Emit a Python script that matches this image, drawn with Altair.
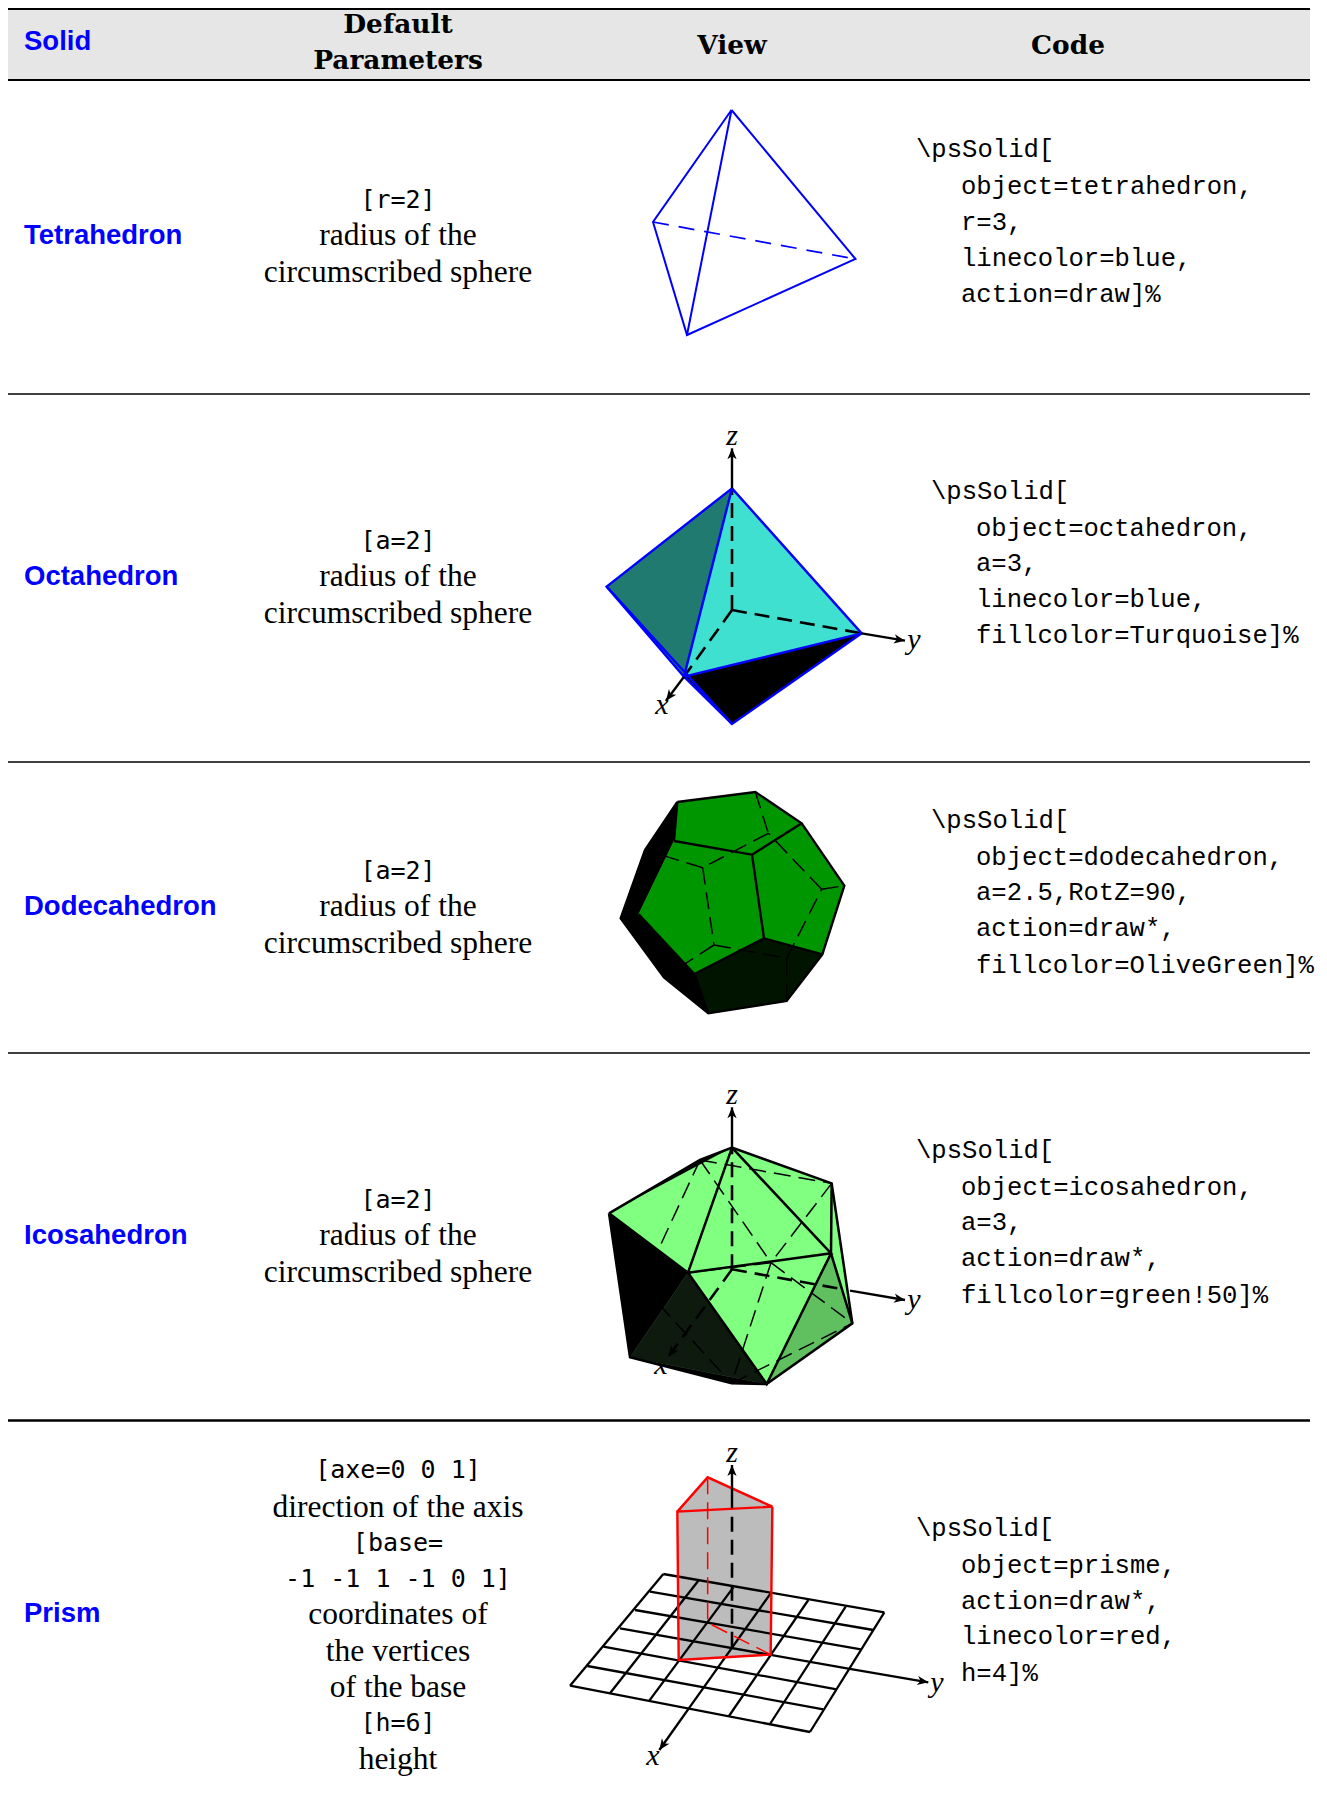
import math
import altair as alt
import pandas

W, H = 1311, 1787
XD = alt.Scale(domain=[8, 8 + W], nice=False, zero=False)
YD = alt.Scale(domain=[8 + H, 8], nice=False, zero=False)

# ---------- table structure ----------
rule_ys = [9, 80, 394, 762, 1053, 1420.5]
rule_ws = [2, 2, 1.7, 1.7, 1.7, 2.5]

# ---------- text ----------
sans_text = [("Solid", 24, 42), ("Tetrahedron", 24, 236), ("Octahedron", 24, 577),
             ("Dodecahedron", 24, 907), ("Icosahedron", 24, 1236), ("Prism", 24, 1614)]
head_text = [("Default", 398, 25), ("Parameters", 398, 61), ("View", 732, 46), ("Code", 1068, 46)]
body_text = [("radius of the", 398, 236), ("circumscribed sphere", 398, 273),
             ("radius of the", 398, 577), ("circumscribed sphere", 398, 614),
             ("radius of the", 398, 907), ("circumscribed sphere", 398, 944),
             ("radius of the", 398, 1236), ("circumscribed sphere", 398, 1273),
             ("direction of the axis", 398, 1508), ("coordinates of", 398, 1615),
             ("the vertices", 398, 1652), ("of the base", 398, 1688), ("height", 398, 1760)]
param_text = [("[r=2]", 398, 200), ("[a=2]", 398, 541), ("[a=2]", 398, 871), ("[a=2]", 398, 1200),
              ("[axe=0 0 1]", 398, 1470), ("[base=", 398, 1543), ("-1 -1 1 -1 0 1]", 398, 1579),
              ("[h=6]", 398, 1723)]
code_text = [("\\psSolid[", 916, 149), ("object=tetrahedron,", 961, 186), ("r=3,", 961, 222),
             ("linecolor=blue,", 961, 258), ("action=draw]%", 961, 294),
             ("\\psSolid[", 931, 491), ("object=octahedron,", 976, 528), ("a=3,", 976, 563),
             ("linecolor=blue,", 976, 599), ("fillcolor=Turquoise]%", 976, 635),
             ("\\psSolid[", 931, 820), ("object=dodecahedron,", 976, 857), ("a=2.5,RotZ=90,", 976, 892),
             ("action=draw*,", 976, 928), ("fillcolor=OliveGreen]%", 976, 965),
             ("\\psSolid[", 916, 1150), ("object=icosahedron,", 961, 1187), ("a=3,", 961, 1222),
             ("action=draw*,", 961, 1258), ("fillcolor=green!50]%", 961, 1295),
             ("\\psSolid[", 916, 1528), ("object=prisme,", 961, 1565), ("action=draw*,", 961, 1601),
             ("linecolor=red,", 961, 1636), ("h=4]%", 961, 1673)]
math_under = [("x", 661, 1365)]
math_text = [("z", 732, 436), ("y", 914, 640), ("x", 662, 705),
             ("z", 732, 1095), ("y", 914, 1300),
             ("z", 732, 1453), ("y", 937, 1683), ("x", 653, 1756)]

# ---------- geometry, in page pixels ----------
def P(ox, oy, *pts):
    return [(ox + a / 3, oy + b / 3) for a, b in pts]

# tetrahedron
t_top, t_left, t_right, t_bot = (731.5, 110), (653, 222), (855.5, 259), (687, 335)

# octahedron
O8 = (580, 420)
o_top, o_left, o_right, o_bot, o_front, o_orig = P(*O8, (456, 205), (80, 500), (845, 640), (456, 912), (312, 770), (456, 570))
o_zt, o_yt, o_xt = P(*O8, (456, 85), (975, 662), (258, 842))

# dodecahedron
O12 = (600, 770)
dA, dB, dC, dD, dE, dF, dG, dH, dI, dJ = P(*O12, (232, 96), (466, 66), (605, 160), (733, 347), (667, 553), (560, 693), (325, 730), (192, 622), (62, 445), (135, 240))
dK, dL, dM, dN, dO = P(*O12, (222, 213), (456, 254), (492, 505), (283, 612), (116, 433))
dP1, dP2, dP3, dP4, dP5 = P(*O12, (505, 190), (308, 293), (342, 525), (560, 565), (665, 358))

# icosahedron
O20 = (590, 1080)
iT, iTL, iL, iC, iR1, iR2, iR3, iB, iBL, iBm = P(*O20, (426, 203), (330, 240), (57, 400), (294, 578), (725, 310), (723, 520), (787, 730), (530, 912), (120, 832), (425, 910))
iV, iH = P(*O20, (155, 617), (543, 548))
iO, iZt, iYs, iYe, iYt, iXt = P(*O20, (426, 568), (426, 82), (780, 632), (760, 628), (945, 660), (235, 830))

# prism
OP = (560, 1430)
p1, p2, p3, p4, p5, p6 = P(*OP, (352, 245), (443, 142), (637, 230), (356, 690), (443, 578), (632, 674))
pO, pZd, pZs, pZt, pXs, pXt, pYs, pYt = P(*OP, (516, 650), (516, 245), (516, 235), (516, 105), (386, 836), (298, 960), (865, 716), (1105, 757))
grid_y = [((310, 432), (973, 547)), ((270, 485), (940, 600)), ((225, 540), (903, 658)), ((180, 595), (865, 716)),
          ((130, 650), (830, 778)), ((82, 708), (790, 838)), ((30, 767), (750, 906))]
grid_x = [((310, 432), (30, 767)), ((415, 452), (150, 790)), ((520, 472), (268, 812)), ((632, 490), (386, 836)),
          ((745, 510), (507, 858)), ((857, 530), (630, 882)), ((973, 547), (750, 906))]

# ---------- painted faces, back to front ----------
faces = [
    ("#217a70", [o_top, o_left, o_front]),
    ("#40e0d0", [o_top, o_front, o_right]),
    ("#000000", [o_front, o_right, o_bot]),

    ("#000000", [dA, dJ, dI, dH, dG, dN, dO, dK]),
    ("#001400", [dM, dE, dF, dG, dN]),
    ("#009600", [dA, dB, dC, dL, dK]),
    ("#009600", [dK, dL, dM, dN, dO]),
    ("#009600", [dL, dC, dD, dE, dM]),

    ("#80ff80", [iT, iR1, iR3, iR2]),
    ("#000000", [iL, iTL, iT]),
    ("#80ff80", [iL, iT, iC]),
    ("#80ff80", [iT, iC, iR2]),
    ("#80ff80", [iC, iR2, iB]),
    ("#60c060", [iR2, iR3, iB]),
    ("#000000", [iL, iC, iBL]),
    ("#000000", [iBL, iBm, iB]),
    ("#0f1a0f", [iC, iB, iBL]),

    ("#bcbcbc", [p1, p2, p3, p6, p4]),
]

# ---------- stroked lines: colour, width, dash, polylines ----------
strokes = [
    ("#000000", 2.3, None, [P(*OP, *seg) for seg in grid_y + grid_x]),
    ("#0000ff", 1.7, [16, 10], [[t_left, t_right]]),
    ("#0000ff", 2, None, [[t_top, t_left, t_bot, t_right, t_top], [t_top, t_bot]]),

    ("#000000", 2.6, [15, 8], [[o_orig, o_top], [o_orig, o_right], [o_orig, o_front]]),
    ("#0000ff", 2.4, None, [[o_top, o_left, o_bot, o_right, o_top], [o_top, o_front, o_left], [o_front, o_right], [o_front, o_bot]]),
    ("#000000", 2.4, None, [[o_top, o_zt], [o_right, o_yt], [o_front, o_xt]]),

    ("#000000", 1.5, [17, 8], [[dB, dP1], [dP1, dP2], [dP2, dP3], [dP3, dP4], [dP4, dP5], [dP5, dP1],
                               [dP2, dJ], [dP3, dH], [dP4, dF], [dP5, dD]]),
    ("#000000", 2.4, None, [[dA, dB, dC, dD, dE, dF, dG, dH, dI, dJ, dA], [dK, dL, dM, dN, dO], [dL, dC], [dM, dE], [dA, dK], [dN, dG]]),

    ("#000000", 1.5, [17, 8], [[iTL, iV], [iTL, iH], [iTL, iR1], [iR1, iH], [iH, iC], [iH, iBm], [iH, iR3], [iBm, iR3], [iV, iBm]]),
    ("#000000", 2.6, [15, 8], [[iO, iT], [iO, iYe], [iO, iXt]]),
    ("#000000", 2.5, None, [[iL, iTL, iT, iR1, iR3, iB, iBm, iBL, iL], [iT, iC, iL], [iT, iR2, iC, iB, iR2, iR3], [iR1, iR2]]),
    ("#000000", 2.4, None, [[iT, iZt], [iYs, iYt]]),

    ("#ff0000", 1.5, [17, 8], [[p2, p5, p6]]),
    ("#ff0000", 2.4, None, [[p1, p2, p3, p1, p4, p6, p3]]),
    ("#000000", 2.6, [15, 8], [[pO, pZd]]),
    ("#000000", 2.4, None, [[pZs, pZt], [pXs, pXt], [pYs, pYt]]),
]

arrow_segments = [(o_top, o_zt), (o_right, o_yt), (o_front, o_xt), (iT, iZt), (iYs, iYt), (iO, iXt),
                  (pZs, pZt), (pXs, pXt), (pYs, pYt)]

# ---------- tables ----------
xe = alt.X("x:Q", scale=XD, axis=None)
ye = alt.Y("y:Q", scale=YD, axis=None)

def text_layer(rows, align, font, size, weight="normal", style="normal", color="#000000"):
    df = pandas.DataFrame(rows, columns=["t", "x", "y"])
    return alt.Chart(df).mark_text(align=align, baseline="middle", font=font, fontSize=size,
                                   fontWeight=weight, fontStyle=style, color=color).encode(x=xe, y=ye, text="t:N")

face_rows = []
for i, (c, pts) in enumerate(faces):
    for k, (x, y) in enumerate(pts + pts[:1]):
        face_rows.append({"id": i, "k": k, "x": x, "y": y, "c": c})
face_df = pandas.DataFrame(face_rows)

layers = [
    alt.Chart(pandas.DataFrame({"x": [8], "x2": [1310], "y": [8], "y2": [80]})).mark_rect(color="#e6e6e6").encode(
        x=xe, x2="x2:Q", y=ye, y2="y2:Q"),
    alt.Chart(pandas.DataFrame({"x": [8] * 6, "x2": [1310] * 6, "y": rule_ys, "w": rule_ws})).mark_rule(color="#000000").encode(
        x=xe, x2="x2:Q", y=ye, strokeWidth=alt.StrokeWidth("w:Q", scale=None)),
    text_layer(math_under, "center", "Liberation Serif", 30, style="italic"),
    alt.Chart(face_df).mark_line(strokeWidth=0.5).encode(
        x=xe, y=ye, detail="id:N", order="k:Q",
        fill=alt.Fill("c:N", scale=None), stroke=alt.Stroke("c:N", scale=None)),
]

for color, width, dash, lines in strokes:
    rows = []
    for i, ln in enumerate(lines):
        for k, (x, y) in enumerate(ln):
            rows.append({"id": i, "k": k, "x": x, "y": y})
    kw = {"strokeDash": dash} if dash else {}
    layers.append(alt.Chart(pandas.DataFrame(rows)).mark_line(color=color, strokeWidth=width, **kw).encode(
        x=xe, y=ye, detail="id:N", order="k:Q"))

arrow_rows = [{"x": b[0], "y": b[1], "a": math.degrees(math.atan2(b[0] - a[0], a[1] - b[1]))} for a, b in arrow_segments]
layers.append(alt.Chart(pandas.DataFrame(arrow_rows)).mark_point(
    shape="M0,0 L0.42,1 L0,0.72 L-0.42,1 Z", filled=True, size=484, opacity=1, color="#000000", strokeWidth=0).encode(
    x=xe, y=ye, angle=alt.Angle("a:Q", scale=None)))

layers += [
    text_layer(sans_text, "left", "Liberation Sans", 27.5, weight="bold", color="#0000ff"),
    text_layer(head_text, "center", "DejaVu Serif", 26.4, weight="bold"),
    text_layer(body_text, "center", "Liberation Serif", 31.5),
    text_layer(param_text, "center", "DejaVu Sans Mono", 25),
    text_layer(code_text, "left", "Liberation Mono", 25.6),
    text_layer(math_text, "center", "Liberation Serif", 30, style="italic"),
]

chart = alt.layer(*layers).properties(
    width=W, height=H, padding=0, autosize=alt.AutoSizeParams(type="none")
).configure_view(stroke=None)
chart.save("out.html", embed_options={"renderer": "svg", "actions": False})
